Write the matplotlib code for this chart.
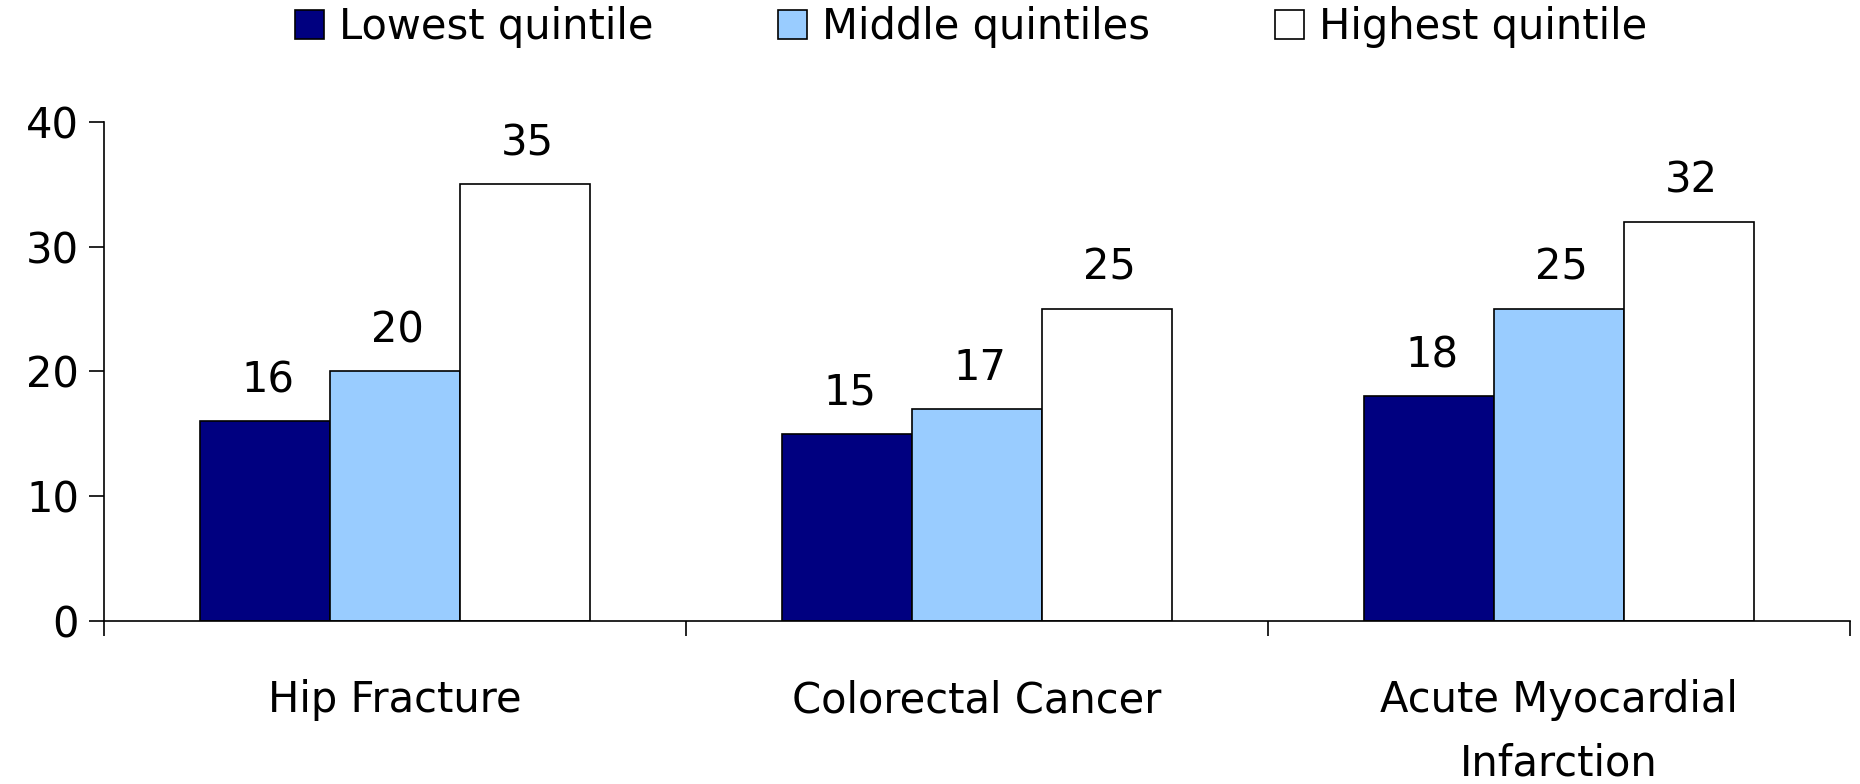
import matplotlib
matplotlib.use("Agg")
import matplotlib.pyplot as plt
import numpy as np

categories = ["Hip Fracture", "Colorectal Cancer", "Acute Myocardial\nInfarction"]
series_names = ["Lowest quintile", "Middle quintiles", "Highest quintile"]
lowest = [16, 15, 18]
middle = [20, 17, 25]
highest = [35, 25, 32]
y_ticks = [0, 10, 20, 30, 40]

colors = ["#000080", "#99CCFF", "#FFFFFF"]

plt.rcParams["font.family"] = ["DejaVu Sans"]
FS = 30

fig = plt.figure(figsize=(18.6, 7.84), dpi=100)
ax = fig.add_axes([0.056, 0.208, 0.9386, 0.6364])

x = np.arange(len(categories))
width = 0.223
offsets = [-width, 0, width]
for vals, name, col, off in zip([lowest, middle, highest], series_names, colors, offsets):
    bars = ax.bar(x + off, vals, width, color=col, edgecolor="black", linewidth=1.2, label=name)
    for b, v in zip(bars, vals):
        ax.annotate(f"{v}", (b.get_x() + b.get_width() / 2, v), xytext=(2, 21),
                    textcoords="offset points", ha="center", va="baseline", fontsize=FS)

ax.set_xlim(-0.5, 2.5)
ax.set_ylim(0, 40)
ax.set_yticks(y_ticks)
ax.tick_params(axis="y", labelsize=FS, length=11, width=1.2, pad=7)

ax.set_xticks(x)
ax.set_xticklabels(categories, fontsize=FS, linespacing=1.65, va="top")
ax.set_xticks([-0.5, 0.5, 1.5, 2.5], minor=True)
ax.tick_params(axis="x", which="major", length=0, pad=42)
ax.tick_params(axis="x", which="minor", length=11, width=1.2)

for s in ["top", "right"]:
    ax.spines[s].set_visible(False)
for s in ["left", "bottom"]:
    ax.spines[s].set_linewidth(1.2)

fig.legend(loc="upper center", bbox_to_anchor=(0.522, 1.04), ncol=3, frameon=False,
           fontsize=FS, handlelength=0.7, handleheight=0.7, handletextpad=0.35,
           columnspacing=3.0)

fig.savefig("out.png", dpi=100)
